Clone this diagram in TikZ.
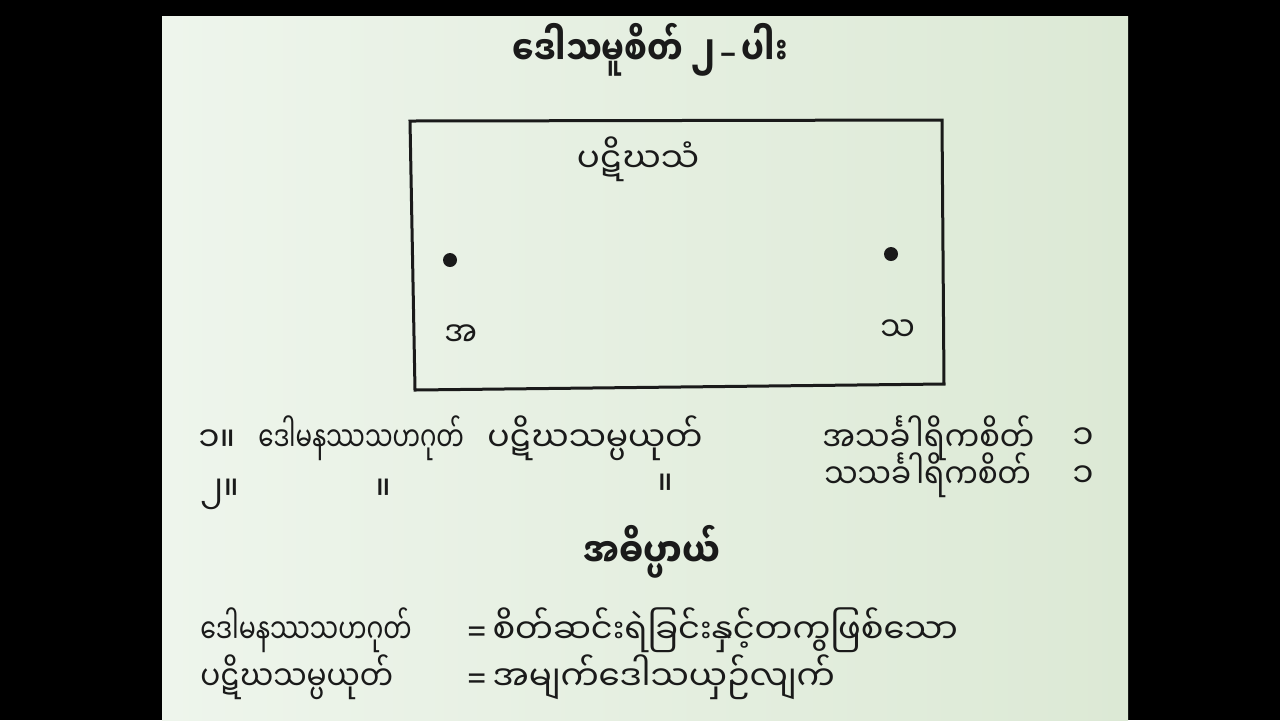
\documentclass[tikz,border=0pt]{standalone}
\usepackage{fontspec}
\newfontfamily\mmfont[Script=Myanmar]{Noto Sans Myanmar UI}
\newfontfamily\latfont{Noto Sans}
\definecolor{ink}{HTML}{1A1A1A}
\definecolor{paperL}{HTML}{EEF5EC}
\definecolor{paperR}{HTML}{DCE9D5}
% squeeze a text sideways, the book's type is narrow
\newcommand\mmsq[2]{\scalebox{#1}[1]{#2}}
\begin{document}
\begin{tikzpicture}[x=0.5pt,y=-0.5pt,
    mm/.style={font=\mmfont\fontsize{17}{20}\selectfont, text=ink, inner sep=0pt, anchor=base west},
    mmhead/.style={font=\mmfont\bfseries\fontsize{20}{24}\selectfont, text=ink, inner sep=0pt, anchor=base},
    dot/.style={circle, fill=ink, inner sep=0pt, minimum size=7pt}]

    % Background and page
    \fill[black] (0,0) rectangle (1280,720);
    \fill[left color=paperL, right color=paperR] (162,16) rectangle (1128,720);

    % Title
    \node[mmhead] (title) at (650,65) {\mmsq{0.8}{ဒေါသမူစိတ် ၂{\latfont\bfseries\,–\,}ပါး}};

    % The box, a little out of square
    \coordinate (b1) at (410,121);
    \coordinate (b2) at (942,120);
    \coordinate (b3) at (944,384);
    \coordinate (b4) at (415,390);
    \draw[ink, line width=1.5pt] (b1) -- (b2) -- (b3) -- (b4) -- cycle;

    \node[mm, anchor=base] (patigha) at (638,172) {ပဋိဃသံ};
    \node[dot] (dotA) at (450,260) {};
    \node[dot] (dotS) at (891,254) {};
    \node[mm] (labA) at (444,346) {\mmsq{0.9}{အ}};
    \node[mm] (labS) at (880,341) {\mmsq{0.9}{သ}};

    % Row 1
    \node[mm] (n1) at (198,451) {၁။};
    \node[mm] (dom1) at (258,451) {\mmsq{0.72}{ဒေါမနဿသဟဂုတ်}};
    \node[mm] (pat1) at (487,451) {\mmsq{0.97}{ပဋိဃသမ္ပယုတ်}};
    \node[mm] (asa) at (822,451) {\mmsq{0.9}{အသင်္ခါရိကစိတ်}};
    \node[mm] (c1) at (1072,449) {၁};

    % Row 2
    \node[mm] (n2) at (200,500) {၂။};
    \node[mm] (dit1) at (375,500) {။};
    \node[mm] (dit2) at (657,495) {။};
    \node[mm] (sasa) at (824,488) {\mmsq{0.87}{သသင်္ခါရိကစိတ်}};
    \node[mm] (c2) at (1072,487) {၁};

    % Meaning
    \node[mmhead] (meaning) at (652,567) {\mmsq{0.85}{အဓိပ္ပာယ်}};
    \node[mm] (dom2) at (200,643) {\mmsq{0.74}{ဒေါမနဿသဟဂုတ်}};
    \node[mm] (domdef) at (467,643) {{\latfont =}\,\mmsq{0.99}{စိတ်ဆင်းရဲခြင်းနှင့်တကွဖြစ်သော}};
    \node[mm] (pat2) at (200,690) {\mmsq{0.87}{ပဋိဃသမ္ပယုတ်}};
    \node[mm] (patdef) at (467,690) {{\latfont =}\,\mmsq{1.0}{အမျက်ဒေါသယှဉ်လျက်}};
\end{tikzpicture}
\end{document}
